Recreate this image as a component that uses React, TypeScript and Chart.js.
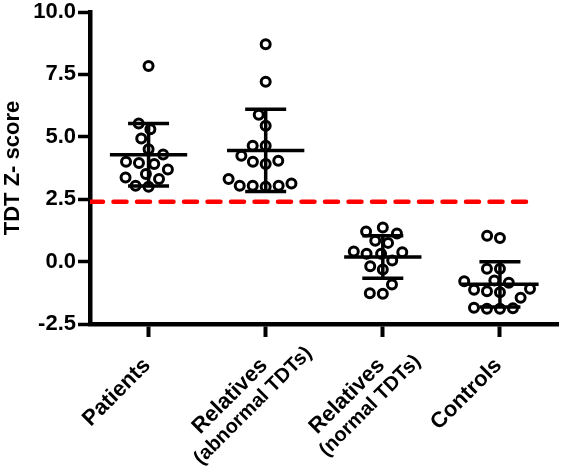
import React, { useEffect, useRef } from "react";
import { Chart, registerables } from "chart.js";

Chart.register(...registerables);

// ---- data ----
const categories: string[][] = [
  ["Patients"],
  ["Relatives", "(abnormal TDTs)"],
  ["Relatives", "(normal TDTs)"],
  ["Controls"],
];
const patients = [7.84, 5.53, 5.3, 4.93, 4.5, 4.29, 3.95, 3.91, 4.0, 3.69, 3.51, 3.31, 3.37, 3.0, 3.04];
const relativesAbnormal = [8.71, 7.21, 5.88, 5.44, 4.64, 4.64, 4.24, 4.0, 3.91, 4.04, 3.13, 3.04, 3.0, 3.04, 3.04, 3.31];
const relativesNormal = [1.21, 1.13, 1.37, 0.75, 0.84, 0.31, 0.37, 0.4, 0.31, 0.04, -0.19, -0.32, -0.92, -1.29, -1.27];
const controls = [1.04, 0.95, -0.29, -0.29, -0.79, -0.85, -0.76, -1.09, -1.19, -1.23, -1.13, -1.45, -1.85, -1.89, -1.89, -1.87];
const groups = [patients, relativesAbnormal, relativesNormal, controls];
const threshold = 2.4;
const thresholdEnd = 3.28;
const yMin = -2.5;
const yMax = 10;
const yStep = 2.5;
const yTitle = "TDT Z- score";

const FONT = '"Liberation Sans", Arial, Helvetica, sans-serif';

function mean(a: number[]) {
  return a.reduce((s, v) => s + v, 0) / a.length;
}
function sd(a: number[]) {
  const m = mean(a);
  return Math.sqrt(a.reduce((s, v) => s + (v - m) * (v - m), 0) / (a.length - 1));
}

function swarm(ys: number[], D: number): number[] {
  const order = ys.map((_, i) => i).sort((a, b) => ys[b] - ys[a]);
  const placed: { x: number; y: number }[] = [];
  const out: number[] = new Array(ys.length).fill(0);
  for (const i of order) {
    const y = ys[i];
    const ivs = placed
      .filter((p) => Math.abs(p.y - y) < D)
      .map((p) => {
        const h = Math.sqrt(D * D - (p.y - y) * (p.y - y));
        return [p.x - h, p.x + h];
      });
    const cands = [0, ...ivs.flat()].sort((a, b) => Math.abs(a) - Math.abs(b));
    let x = 0;
    for (const c of cands) {
      if (ivs.every(([a, b]) => c <= a + 1e-6 || c >= b - 1e-6)) {
        x = c;
        break;
      }
    }
    placed.push({ x, y });
    out[i] = x;
  }
  return out;
}

const meanSdPlugin = {
  id: "meanSd",
  afterDatasetsDraw(chart: any) {
    const { ctx } = chart;
    const xs = chart.scales.x;
    const ys = chart.scales.y;
    const unit = xs.getPixelForValue(1) - xs.getPixelForValue(0);
    ctx.save();
    ctx.strokeStyle = "#000";
    ctx.lineWidth = 3.5;
    groups.forEach((g, i) => {
      const m = mean(g);
      const s = sd(g);
      const cx = xs.getPixelForValue(i);
      const ym = ys.getPixelForValue(m);
      const yt = ys.getPixelForValue(m + s);
      const yb = ys.getPixelForValue(m - s);
      const mw = unit * 0.33;
      const cw = unit * 0.175;
      ctx.beginPath();
      ctx.moveTo(cx - mw, ym);
      ctx.lineTo(cx + mw, ym);
      ctx.moveTo(cx - cw, yt);
      ctx.lineTo(cx + cw, yt);
      ctx.moveTo(cx - cw, yb);
      ctx.lineTo(cx + cw, yb);
      ctx.moveTo(cx, yt);
      ctx.lineTo(cx, yb);
      ctx.stroke();
    });
    ctx.restore();
  },
};

const LABEL_ANGLE = Math.PI / 4;

const xLabelPlugin = {
  id: "xLabels",
  afterDraw(chart: any) {
    const { ctx } = chart;
    const xs = chart.scales.x;
    const bottom = chart.chartArea.bottom;
    ctx.save();
    ctx.fillStyle = "#000";
    ctx.textAlign = "center";
    ctx.textBaseline = "alphabetic";
    categories.forEach((lines, i) => {
      const px = xs.getPixelForValue(i);
      ctx.save();
      ctx.translate(px, bottom);
      ctx.rotate(-LABEL_ANGLE);
      ctx.font = `bold 22px ${FONT}`;
      const w0 = ctx.measureText(lines[0]).width;
      const c0 = -28 - w0 / 2;
      ctx.fillText(lines[0], c0, 32);
      if (lines[1]) {
        ctx.font = `bold 20px ${FONT}`;
        ctx.fillText(lines[1], c0 + 9.5, 54.5);
      }
      ctx.restore();
    });
    ctx.restore();
  },
};

export default function App() {
  const ref = useRef<HTMLCanvasElement | null>(null);
  useEffect(() => {
    if (!ref.current) return;
    const pointDatasets = groups.map((g, i) => ({
      type: "scatter" as const,
      data: g.map((v) => ({ x: i, y: v })),
      pointStyle: "circle",
      pointRadius: 4.5,
      pointBorderWidth: 3,
      pointBorderColor: "#000",
      pointBackgroundColor: "rgba(0,0,0,0)",
      showLine: false,
    }));
    const chart = new Chart(ref.current, {
      type: "scatter",
      data: {
        datasets: [
          {
            type: "line" as const,
            data: [
              { x: -0.5, y: threshold },
              { x: thresholdEnd, y: threshold },
            ],
            borderColor: "#ff0000",
            borderWidth: 4.5,
            borderDash: [13, 10.5],
            borderCapStyle: "round",
            pointRadius: 0,
            fill: false,
          } as any,
          ...pointDatasets,
        ],
      },
      options: {
        responsive: false,
        animation: false,
        events: [],
        layout: { padding: { top: 12, right: 4, bottom: 136, left: 0 } },
        plugins: { legend: { display: false }, tooltip: { enabled: false } },
        scales: {
          x: {
            type: "linear",
            min: -0.5,
            max: 3.5,
            afterBuildTicks: (s: any) => {
              s.ticks = categories.map((_, i) => ({ value: i }));
            },
            afterFit: (s: any) => {
              s.height = 13;
            },
            ticks: { display: false },
            grid: {
              display: true,
              drawOnChartArea: false,
              drawTicks: true,
              tickLength: 13,
              tickWidth: 4,
              tickColor: "#000",
            },
            border: { display: true, width: 4.5, color: "#000" },
          },
          y: {
            type: "linear",
            min: yMin,
            max: yMax,
            ticks: {
              stepSize: yStep,
              padding: 2,
              color: "#000",
              font: { family: FONT, size: 22, weight: "bold" },
              callback: (v: any) => Number(v).toFixed(1),
            },
            afterFit: (s: any) => {
              s.width = 90;
              s.paddingTop = 0;
              s.paddingBottom = 0;
            },
            grid: {
              display: true,
              drawOnChartArea: false,
              drawTicks: true,
              tickLength: 12,
              tickWidth: 3.5,
              tickColor: "#000",
            },
            border: { display: true, width: 4.5, color: "#000" },
            title: {
              display: true,
              text: yTitle,
              color: "#000",
              padding: { top: 0, bottom: 0 },
              font: { family: FONT, size: 22, weight: "bold" },
            },
          },
        },
      },
      plugins: [meanSdPlugin, xLabelPlugin],
    });

    // arrange points as a swarm using the chart's own scales
    const xs: any = chart.scales.x;
    const ys: any = chart.scales.y;
    const unit = xs.getPixelForValue(1) - xs.getPixelForValue(0);
    groups.forEach((g, i) => {
      const pys = g.map((v) => ys.getPixelForValue(v));
      const offs = swarm(pys, 13);
      (chart.data.datasets[i + 1] as any).data = g.map((v, k) => ({ x: i + offs[k] / unit, y: v }));
    });
    chart.update("none");

    return () => chart.destroy();
  }, []);

  return (
    <div style={{ position: "absolute", left: 0, top: 0, width: 566, height: 473 }}>
      <canvas ref={ref} width={566} height={473} style={{ display: "block" }} />
    </div>
  );
}
